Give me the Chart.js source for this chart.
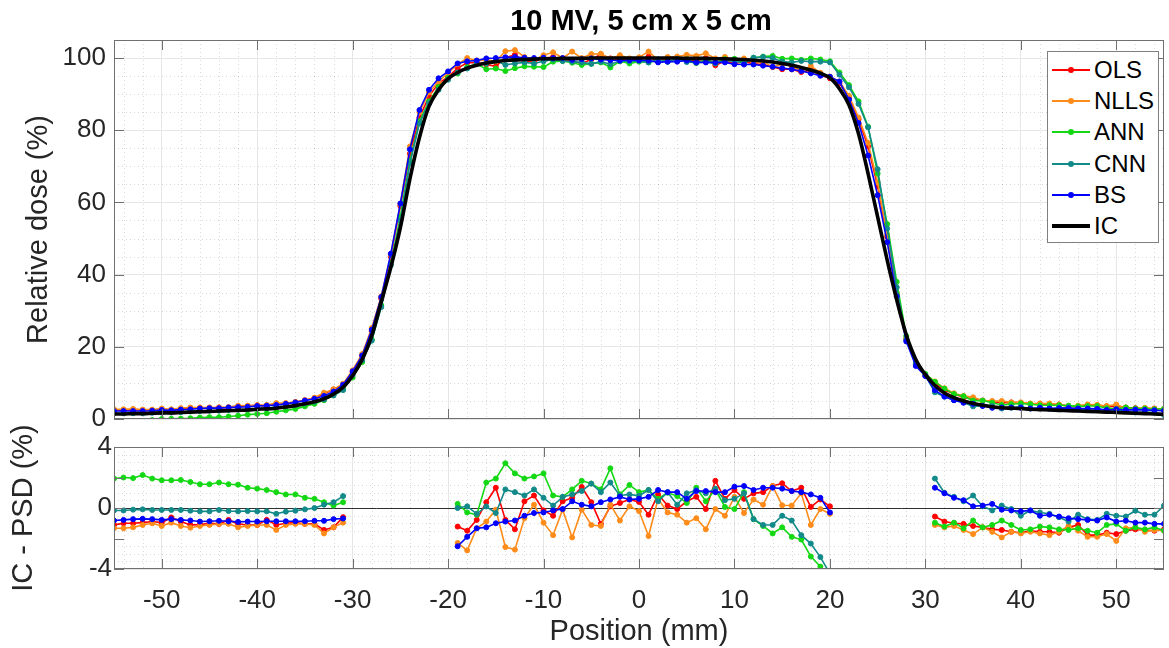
<!DOCTYPE html>
<html><head><meta charset="utf-8">
<script src="https://cdn.jsdelivr.net/npm/chart.js@4.4.1/dist/chart.umd.min.js"></script>
<style>
html,body{margin:0;padding:0;background:#fff;}
#wrap{position:relative;width:1169px;height:648px;overflow:hidden;font-family:"Liberation Sans",Arial,sans-serif;}
canvas{position:absolute;left:0;top:0;}
#legend{position:absolute;left:1047px;top:51px;width:110px;height:190px;border:1px solid #7f7f7f;background:#fff;}
.row{position:absolute;left:0;width:110px;height:30px;}
.ln{position:absolute;left:4px;width:38px;}
.dot{position:absolute;left:20px;top:12px;width:6px;height:6px;border-radius:50%;}
.lbl{position:absolute;left:46px;top:0;line-height:30px;font-size:24px;color:#000;white-space:nowrap;}
</style></head>
<body><div id="wrap">
<canvas id="cTop" width="1169" height="648"></canvas>
<canvas id="cBot" width="1169" height="648"></canvas>
<div id="legend"></div>
</div>
<script>
// ---------- DATA ----------
const positions = [-55,-54,-53,-52,-51,-50,-49,-48,-47,-46,-45,-44,-43,-42,-41,-40,-39,-38,-37,-36,-35,-34,-33,-32,-31,
 -30,-29,-28,-27,-26,-25,-24,-23,-22,-21,-20,
 -19,-18,-17,-16,-15,-14,-13,-12,-11,-10,-9,-8,-7,-6,-5,-4,-3,-2,-1,0,
 1,2,3,4,5,6,7,8,9,10,11,12,13,14,15,16,17,18,19,20,
 21,22,23,24,25,26,27,28,29,30,
 31,32,33,34,35,36,37,38,39,40,41,42,43,44,45,46,47,48,49,50,51,52,53,54,55];

const xTickValues = [-50,-40,-30,-20,-10,0,10,20,30,40,50];
const doseTickValues = [0,20,40,60,80,100];
const diffTickValues = [-4,-2,0,2,4];

const seriesNames = ['OLS','NLLS','ANN','CNN','BS','IC'];

// Top panel: relative dose (%)
const doseIC = [1.4,1.4,1.5,1.5,1.6,1.7,1.7,1.8,1.9,2.0,2.1,2.2,2.3,2.4,2.5,2.7,2.8,3.0,3.3,3.7,4.2,4.8,5.6,6.9,8.8,
 12.0,16.5,23.0,32.5,42.0,53.0,66.5,78.0,86.6,91.2,94.3,
 96.0,97.2,98.0,98.6,99.0,99.3,99.5,99.6,99.7,99.8,99.8,99.9,99.9,99.9,100,100,100,100,100,100,
 100,100,100,100,99.9,99.9,99.9,99.8,99.8,99.7,99.6,99.4,99.2,98.9,98.5,98.0,97.4,96.7,95.8,94.5,
 91.5,87.0,79.0,68.0,56.0,44.0,33.0,23.3,16.5,12.3,
 9.3,7.2,5.9,5.0,4.3,3.8,3.4,3.1,3.0,2.9,2.7,2.6,2.5,2.4,2.3,2.2,2.1,2.0,1.9,1.8,1.7,1.6,1.5,1.4,1.3];

const doseOLS = [2.5,2.4,2.5,2.5,2.5,2.7,2.3,2.7,3.0,3.1,3.1,3.2,3.1,3.4,3.6,3.8,3.6,4.1,4.3,4.7,5.2,5.8,7.0,8.2,9.4,
 13.0,17.3,24.3,33.3,45.0,59.0,73.5,83.5,89.4,93.0,94.8,
 97.2,98.7,98.8,98.2,97.7,100.1,100.9,99.2,98.9,100.0,100.3,99.5,99.2,98.5,99.6,101.0,99.9,99.7,99.4,99.6,
 100.4,99.1,99.8,100.1,99.5,99.2,100.0,98.0,99.2,98.5,99.0,98.4,98.2,97.5,96.9,96.9,96.1,96.6,95.2,94.4,
 93.0,89.0,83.0,75.5,64.5,50.5,34.5,22.0,15.2,12.0,
 9.9,8.1,6.9,6.0,5.5,5.1,4.8,4.5,4.6,4.5,4.2,4.2,4.1,4.0,3.6,3.3,3.9,3.8,3.5,3.5,3.2,3.0,2.9,2.9,2.7];

const doseNLLS = [2.7,2.7,2.8,2.6,2.6,2.9,2.7,3.0,3.2,3.2,3.2,3.2,3.3,3.7,3.7,3.8,3.9,4.4,4.4,4.7,5.2,5.9,7.3,8.2,9.8,
 13.5,18.0,25.2,34.0,45.5,59.5,75.5,85.0,90.5,93.5,95.8,
 98.3,100.0,99.3,99.5,99.1,101.9,102.2,100.3,99.5,100.8,101.6,100.0,101.8,100.0,101.1,101.2,99.8,100.8,99.9,100.2,
 101.8,99.4,100.3,100.4,100.9,100.6,101.3,99.9,100.3,99.0,99.9,98.8,99.0,97.5,98.3,97.8,96.4,97.8,95.9,94.9,
 93.5,89.5,83.5,76.5,65.5,51.0,35.0,22.5,15.5,12.3,
 10.4,8.5,7.1,6.4,6.0,5.1,5.0,5.0,4.6,4.6,4.3,4.3,4.3,4.0,3.5,3.7,4.0,3.9,3.6,4.0,3.0,2.9,3.1,2.8,2.8];

const doseANN = [-0.5,-0.6,-0.5,-0.7,-0.3,0.0,0.05,0.1,0.2,0.4,0.5,0.5,0.7,0.9,1.2,1.4,1.6,2.0,2.4,2.8,3.5,4.2,5.2,6.7,8.4,
 11.5,15.8,22.0,31.5,43.0,56.0,71.5,82.5,88.0,92.0,94.5,
 95.7,97.5,98.4,96.9,97.1,96.4,97.2,97.7,97.6,97.5,99.0,99.2,98.7,98.1,98.4,98.8,97.4,99.1,98.5,99.0,
 98.8,99.4,99.0,99.2,99.6,98.6,99.5,98.6,99.7,99.8,98.6,100.1,100.4,100.6,99.8,99.9,99.5,99.9,99.6,99.1,
 96.0,92.5,88.0,81.0,68.0,54.0,38.0,23.0,15.5,12.5,
 10.3,8.4,6.9,6.3,5.1,5.1,4.5,3.9,4.1,4.3,4.1,3.8,3.8,3.8,3.7,3.5,3.6,3.6,3.0,2.8,3.2,2.9,2.9,2.7,2.8];

const doseCNN = [1.6,1.6,1.6,1.6,1.7,1.8,1.8,1.9,2.1,2.2,2.3,2.3,2.5,2.6,2.7,2.9,3.0,3.4,3.5,3.9,4.3,4.8,5.4,6.5,8.0,
 12.2,16.3,21.7,31.0,42.6,55.0,70.8,81.9,87.5,91.2,94.0,
 96.0,97.1,98.4,98.5,99.3,98.1,98.5,98.8,98.5,99.1,99.6,99.2,99.0,98.8,98.4,99.0,98.3,99.2,99.1,99.2,
 98.8,99.6,99.0,99.8,98.9,98.7,98.9,98.5,99.3,99.1,98.6,100.1,100.3,100.0,99.0,98.8,99.2,99.0,99.0,98.8,
 95.4,91.9,87.3,80.8,69.2,52.8,36.5,22.0,15.0,12.0,
 7.4,6.2,5.2,4.6,3.5,3.7,3.6,2.9,3.1,3.4,2.9,2.9,2.9,3.0,3.2,2.6,2.8,2.8,2.3,2.3,2.3,1.8,1.9,1.8,1.1];

const doseBS = [2.2,2.2,2.2,2.2,2.3,2.5,2.4,2.6,2.7,2.9,3.0,3.0,3.2,3.3,3.4,3.6,3.7,3.9,4.2,4.6,5.1,5.6,6.4,7.6,9.5,
 13.2,17.6,24.7,33.8,45.8,59.7,74.7,85.6,91.2,94.4,96.3,
 98.5,99.1,99.3,99.9,100.0,100.2,100.3,100.1,100.0,100.1,100.0,100.0,99.5,99.7,99.9,99.6,99.4,99.3,99.4,99.4,
 99.3,98.8,99.0,99.0,99.3,98.8,98.8,98.8,98.8,98.3,98.2,98.2,97.9,97.6,97.2,96.9,96.4,95.8,95.1,94.8,
 93.5,88.5,82.0,73.0,62.0,49.0,34.0,21.5,14.7,11.9,
 8.0,6.2,5.2,4.5,4.2,3.6,3.1,3.2,3.2,3.1,2.9,3.1,2.9,3.0,3.0,2.9,2.9,2.8,2.5,2.7,2.5,2.6,2.5,2.4,2.3];

// Bottom panel: IC - PSD (%), gaps (null) in the penumbra regions
const diffOLS = [-1.11,-1.0,-1.0,-0.96,-0.89,-0.96,-0.62,-0.89,-1.11,-1.09,-1.0,-1.04,-0.78,-1.04,-1.11,-1.11,-0.78,-1.11,-1.0,-0.96,-1.04,-1.04,-1.44,-1.27,-0.6,
 null,null,null,null,null,null,null,null,null,null,null,
 -1.22,-1.49,-0.78,0.38,1.33,-0.78,-1.4,0.44,0.82,-0.16,-0.51,0.44,0.67,1.38,0.38,-1.04,0.11,0.33,0.56,0.4,
 -0.44,0.89,0.16,-0.07,0.44,0.73,-0.07,1.78,0.6,1.18,0.6,0.96,1.04,1.44,1.62,1.11,1.33,0.07,0.56,0.11,
 null,null,null,null,null,null,null,null,null,null,
 -0.56,-0.89,-1.0,-1.04,-1.18,-1.27,-1.4,-1.44,-1.56,-1.62,-1.49,-1.56,-1.56,-1.62,-1.27,-1.11,-1.78,-1.78,-1.62,-1.71,-1.49,-1.4,-1.44,-1.49,-1.4];

const diffNLLS = [-1.33,-1.33,-1.27,-1.11,-1.0,-1.18,-0.96,-1.18,-1.29,-1.18,-1.11,-1.04,-1.04,-1.27,-1.18,-1.11,-1.11,-1.44,-1.11,-1.04,-1.04,-1.11,-1.67,-1.27,-0.96,
 null,null,null,null,null,null,null,null,null,null,null,
 -2.29,-2.78,-1.33,-0.89,-0.11,-2.56,-2.73,-0.67,0.22,-0.96,-1.78,-0.11,-1.93,-0.11,-1.11,-1.18,0.22,-0.82,0.11,-0.2,
 -1.84,0.6,-0.29,-0.44,-0.96,-0.67,-1.4,-0.07,-0.51,0.73,-0.33,0.56,0.22,1.44,0.18,0.16,0.96,-1.11,-0.07,-0.38,
 null,null,null,null,null,null,null,null,null,null,
 -1.11,-1.27,-1.18,-1.44,-1.71,-1.27,-1.56,-1.93,-1.56,-1.67,-1.56,-1.67,-1.78,-1.56,-1.18,-1.49,-1.89,-1.89,-1.71,-2.16,-1.33,-1.27,-1.56,-1.44,-1.49];

const diffANN = [1.93,2.0,1.96,2.16,1.93,1.82,1.82,1.84,1.71,1.56,1.56,1.67,1.56,1.53,1.33,1.27,1.18,1.04,0.89,0.89,0.67,0.6,0.38,0.16,0.38,
 null,null,null,null,null,null,null,null,null,null,null,
 0.27,-0.29,-0.44,1.67,1.93,2.93,2.27,1.93,2.07,2.27,0.82,0.73,1.22,1.78,1.6,1.22,2.6,0.89,1.51,1.04,
 1.18,0.6,1.0,0.78,0.33,1.33,0.44,1.22,0.07,-0.07,1.04,-0.73,-1.18,-1.67,-1.27,-1.89,-2.07,-3.18,-3.84,-4.6,
 null,null,null,null,null,null,null,null,null,null,
 -0.96,-1.22,-0.96,-1.33,-0.82,-1.27,-1.11,-0.82,-1.11,-1.44,-1.4,-1.22,-1.27,-1.4,-1.44,-1.33,-1.49,-1.62,-1.11,-1.04,-1.49,-1.27,-1.4,-1.27,-1.49];

const diffCNN = [-0.16,-0.16,-0.11,-0.09,-0.13,-0.13,-0.13,-0.13,-0.18,-0.22,-0.22,-0.13,-0.2,-0.22,-0.2,-0.22,-0.22,-0.38,-0.24,-0.18,-0.09,0,0.22,0.38,0.78,
 null,null,null,null,null,null,null,null,null,null,null,
 0,0.11,-0.38,0.1,-0.33,1.22,1.04,0.82,1.22,0.67,0.16,0.73,0.89,1.11,1.6,1.04,1.67,0.82,0.89,0.8,
 1.18,0.44,1.04,0.22,0.96,1.18,0.96,1.27,0.51,0.6,0.96,-0.73,-1.11,-1.11,-0.51,-0.82,-1.78,-2.33,-3.22,-4.3,
 null,null,null,null,null,null,null,null,null,null,
 1.93,1.0,0.73,0.44,0.82,0.11,-0.16,0.16,-0.07,-0.51,-0.16,-0.29,-0.38,-0.6,-0.89,-0.44,-0.73,-0.78,-0.38,-0.51,-0.56,-0.18,-0.44,-0.44,0.16];

const diffBS = [-0.82,-0.78,-0.73,-0.71,-0.73,-0.78,-0.73,-0.78,-0.82,-0.89,-0.87,-0.84,-0.87,-0.91,-0.89,-0.89,-0.87,-0.87,-0.87,-0.87,-0.87,-0.84,-0.84,-0.73,-0.69,
 null,null,null,null,null,null,null,null,null,null,null,
 -2.51,-1.89,-1.33,-1.27,-1.0,-0.89,-0.82,-0.51,-0.33,-0.29,-0.16,-0.07,0.44,0.22,0.11,0.38,0.56,0.73,0.56,0.6,
 0.73,1.18,1.04,1.04,0.6,1.11,1.11,1.04,1.04,1.4,1.44,1.18,1.33,1.33,1.27,1.11,1.04,0.89,0.67,-0.29,
 null,null,null,null,null,null,null,null,null,null,
 1.33,0.96,0.67,0.51,0.11,0.16,0.27,-0.11,-0.16,-0.22,-0.16,-0.51,-0.44,-0.56,-0.67,-0.73,-0.78,-0.82,-0.62,-0.89,-0.84,-0.96,-0.96,-1.04,-1.04];

// ---------- STYLE ----------
const COLORS = {OLS:'#ff0000', NLLS:'#ff8c1a', ANN:'#14d814', CNN:'#138a8a', BS:'#0000ff', IC:'#000000'};
const FONT = '"Liberation Sans", Arial, Helvetica, sans-serif';
const TXT = '#262626';
const GRID = '#e6e6e6';
const MINOR = 'rgba(0,0,0,0.15)';
const BOX = '#707070';
const ZERO = '#303030';

Chart.defaults.font.family = FONT;
Chart.defaults.color = TXT;

// plugin: minor dotted grid, inward ticks on all four sides, axes box, figure title
const matlabAxes = {
  id: 'matlabAxes',
  beforeDatasetsDraw(chart, args, o) {
    const {ctx, chartArea: a, scales: {x, y}} = chart;
    ctx.save();
    ctx.strokeStyle = MINOR; ctx.lineWidth = 1; ctx.setLineDash([1, 3]);
    ctx.beginPath();
    const isMajor = (v, ticks) => ticks.some(t => Math.abs(t - v) < 1e-6);
    for (let v = Math.ceil(x.min / o.xMinor) * o.xMinor; v < x.max; v += o.xMinor) {
      if (isMajor(v, o.xMajor)) continue;
      const px = Math.round(x.getPixelForValue(v)) + 0.5;
      ctx.moveTo(px, a.top); ctx.lineTo(px, a.bottom);
    }
    for (let v = Math.ceil(y.min / o.yMinor) * o.yMinor; v < y.max - 1e-6; v += o.yMinor) {
      if (v <= y.min + 1e-6 || isMajor(v, o.yMajor)) continue;
      const py = Math.round(y.getPixelForValue(v)) + 0.5;
      ctx.moveTo(a.left, py); ctx.lineTo(a.right, py);
    }
    ctx.stroke();
    ctx.restore();
  },
  afterDatasetsDraw(chart, args, o) {
    const {ctx, chartArea: a, scales: {x, y}} = chart;
    const L = 10;
    ctx.save();
    ctx.strokeStyle = BOX; ctx.lineWidth = 1;
    ctx.beginPath();
    o.xMajor.forEach(v => {
      const px = Math.round(x.getPixelForValue(v)) + 0.5;
      ctx.moveTo(px, a.top); ctx.lineTo(px, a.top + L);
      ctx.moveTo(px, a.bottom); ctx.lineTo(px, a.bottom - L);
    });
    o.yMajor.forEach(v => {
      const py = Math.round(y.getPixelForValue(v)) + 0.5;
      ctx.moveTo(a.left, py); ctx.lineTo(a.left + L, py);
      ctx.moveTo(a.right, py); ctx.lineTo(a.right - L, py);
    });
    ctx.stroke();
    ctx.strokeRect(Math.round(a.left) + 0.5, Math.round(a.top) + 0.5, Math.round(a.right - a.left) - 1, Math.round(a.bottom - a.top) - 1);
    if (o.title) {
      ctx.fillStyle = '#000';
      ctx.font = 'bold 29px ' + FONT;
      ctx.textAlign = 'center';
      ctx.textBaseline = 'alphabetic';
      ctx.fillText(o.title, (a.left + a.right) / 2 + 2, 30);
    }
    ctx.restore();
  }
};

function lineSet(name, values, order) {
  const isIC = name === 'IC';
  return {
    label: name,
    data: positions.map((p, i) => ({x: p, y: values[i]})),
    borderColor: COLORS[name],
    backgroundColor: COLORS[name],
    pointBackgroundColor: COLORS[name],
    pointBorderColor: COLORS[name],
    borderWidth: isIC ? 3.6 : 1.6,
    pointRadius: isIC ? 0 : 2.5,
    pointBorderWidth: 1,
    cubicInterpolationMode: isIC ? 'monotone' : 'default',
    tension: 0,
    spanGaps: false,
    order: order
  };
}

const setTicks = vals => (s => { s.ticks = vals.map(v => ({value: v})); });

// ---------- TOP CHART ----------
new Chart(document.getElementById('cTop'), {
  type: 'line',
  data: {datasets: [
    lineSet('OLS', doseOLS, 5), lineSet('NLLS', doseNLLS, 4), lineSet('ANN', doseANN, 3),
    lineSet('CNN', doseCNN, 2), lineSet('BS', doseBS, 1), lineSet('IC', doseIC, 0)
  ]},
  options: {
    responsive: false, animation: false, events: [],
    layout: {padding: {left: 0, right: 1, top: 40, bottom: 229}},
    plugins: {
      legend: {display: false}, tooltip: {enabled: false},
      matlabAxes: {xMajor: xTickValues, yMajor: doseTickValues, xMinor: 2, yMinor: 5, title: '10 MV, 5 cm x 5 cm'}
    },
    scales: {
      x: {type: 'linear', min: -55, max: 55, afterBuildTicks: setTicks(xTickValues),
          ticks: {display: false}, grid: {color: GRID, drawTicks: false}, border: {display: false},
          afterFit: s => { s.height = 0; }},
      y: {type: 'linear', min: 0, max: 105, afterBuildTicks: setTicks(doseTickValues),
          ticks: {font: {size: 26}, color: TXT, padding: 8},
          grid: {color: GRID, drawTicks: false}, border: {display: false},
          title: {display: true, text: 'Relative dose (%)', font: {size: 29}, color: TXT, padding: {top: 22, bottom: 0}},
          afterFit: s => { s.width = 114; }}
    }
  },
  plugins: [matlabAxes]
});

// ---------- BOTTOM CHART ----------
new Chart(document.getElementById('cBot'), {
  type: 'line',
  data: {datasets: [
    lineSet('OLS', diffOLS, 5), lineSet('NLLS', diffNLLS, 4), lineSet('ANN', diffANN, 3),
    lineSet('CNN', diffCNN, 2), lineSet('BS', diffBS, 1)
  ]},
  options: {
    responsive: false, animation: false, events: [],
    layout: {padding: {left: 0, right: 1, top: 447, bottom: 0}},
    plugins: {
      legend: {display: false}, tooltip: {enabled: false},
      matlabAxes: {xMajor: xTickValues, yMajor: diffTickValues, xMinor: 2, yMinor: 0.5}
    },
    scales: {
      x: {type: 'linear', min: -55, max: 55, afterBuildTicks: setTicks(xTickValues),
          ticks: {font: {size: 26}, color: TXT, padding: 16, maxRotation: 0},
          grid: {color: GRID, drawTicks: false}, border: {display: false},
          title: {display: true, text: 'Position (mm)', font: {size: 29}, color: TXT, padding: {top: 0, bottom: -1}},
          afterFit: s => { s.height = 79; }},
      y: {type: 'linear', min: -4, max: 4, afterBuildTicks: setTicks(diffTickValues),
          ticks: {font: {size: 26}, color: TXT, padding: 2},
          grid: {color: c => (c.tick && c.tick.value === 0) ? ZERO : GRID, drawTicks: false}, border: {display: false},
          title: {display: true, text: 'IC - PSD (%)', font: {size: 29}, color: TXT, padding: {top: 7, bottom: 0}},
          afterFit: s => { s.width = 114; }}
    }
  },
  plugins: [matlabAxes]
});

// ---------- LEGEND ----------
const leg = document.getElementById('legend');
seriesNames.forEach((name, i) => {
  const row = document.createElement('div');
  row.className = 'row';
  row.style.top = (3 + i * 31.2) + 'px';
  const isIC = name === 'IC';
  const ln = document.createElement('div');
  ln.className = 'ln';
  const h = isIC ? 4 : 2;
  ln.style.height = h + 'px';
  ln.style.top = (15 - h / 2) + 'px';
  ln.style.background = COLORS[name];
  row.appendChild(ln);
  if (!isIC) {
    const d = document.createElement('div');
    d.className = 'dot';
    d.style.background = COLORS[name];
    row.appendChild(d);
  }
  const t = document.createElement('div');
  t.className = 'lbl';
  t.textContent = name;
  row.appendChild(t);
  leg.appendChild(row);
});
</script>
</body></html>
